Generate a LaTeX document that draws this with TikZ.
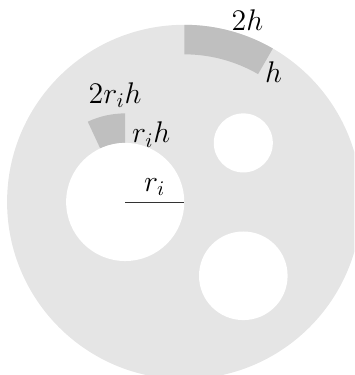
\documentclass[tikz,border=0pt]{standalone}
\usepackage{amsmath}
\usepackage{amssymb}
\usepackage{xcolor}

\begin{document}
\begin{tikzpicture}[x=1cm,y=1cm,font=\Large,
  plate/.style={fill=gray!20},
  hole/.style={fill=white},
  patch/.style={fill=gray!50}]
  \clip (-3.12,-2.93) rectangle (2.88,3.42);
  \coordinate (o) at (0,0);
  \coordinate (c) at (-1,0);
  \fill[plate] (o) circle (3);

  % sectors
  \fill[patch] (90:2.5) arc (90:60:2.5) -- (60:3) arc (60:90:3) -- cycle;
  \fill[patch,shift={(c)}] (90:1) arc (90:115:1) -- (115:1.5) arc (115:90:1.5) -- cycle;

  \fill[hole] (c) circle (1);
  \fill[hole] (1,1) circle (0.5);
  \fill[hole] (1,-1.25) circle (0.75);

  \draw[thin,black!80] (c) -- (o);

  \node (twoh) at (1.07,3.08) {$2h$};
  \node (h) at (1.51,2.20) {$h$};
  \node (tworih) at (-1.17,1.81) {$2r_ih$};
  \node (rih) at (-0.56,1.14) {$r_ih$};
  \node (ri) at (-0.50,0.25) {$r_i$};

\end{tikzpicture}
\end{document}
